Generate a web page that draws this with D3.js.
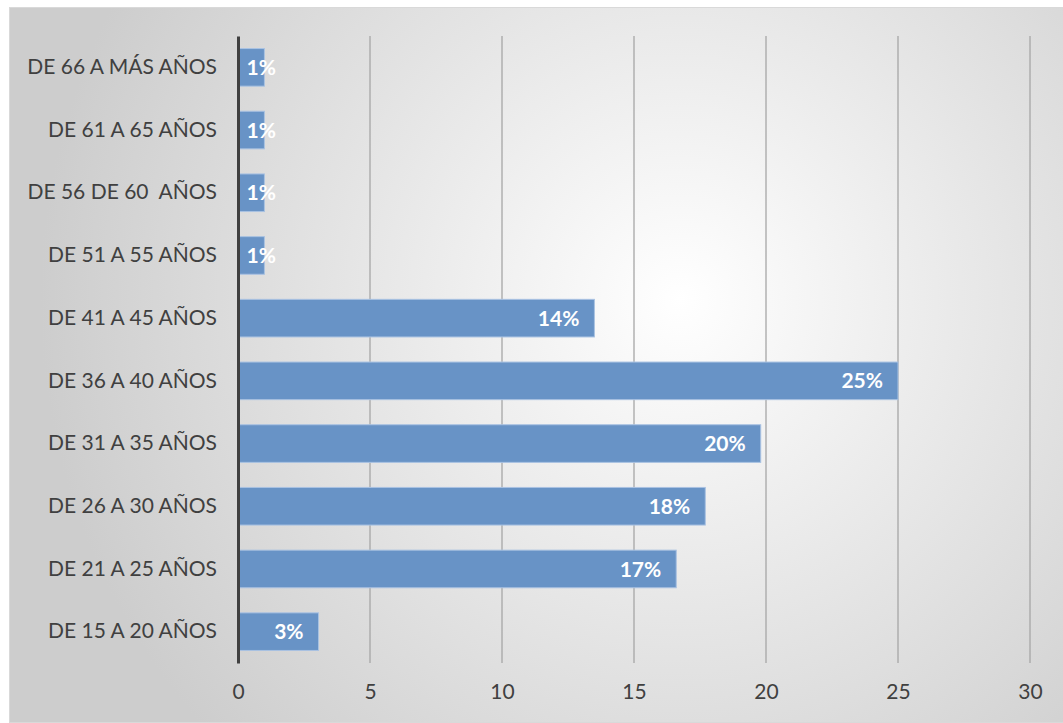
<!DOCTYPE html>
<html>
<head>
<meta charset="utf-8">
<script src="https://cdn.jsdelivr.net/npm/d3@7"></script>
<style>
  body { margin: 0; background: #fff; }
  svg text { font-family: Lato, "Open Sans", sans-serif; }
</style>
</head>
<body>
<script>
var categories = ["DE 66 A MÁS AÑOS", "DE 61 A 65 AÑOS", "DE 56 DE 60  AÑOS", "DE 51 A 55 AÑOS",
    "DE 41 A 45 AÑOS", "DE 36 A 40 AÑOS", "DE 31 A 35 AÑOS", "DE 26 A 30 AÑOS",
    "DE 21 A 25 AÑOS", "DE 15 A 20 AÑOS"];
var values = [1, 1, 1, 1, 13.5, 25, 19.8, 17.7, 16.6, 3.05];
var labels = ["1%", "1%", "1%", "1%", "14%", "25%", "20%", "18%", "17%", "3%"];
var ticks = [0, 5, 10, 15, 20, 25, 30];

var W = 1063, H = 723;
var margin = {top: 36, right: 33, bottom: 60, left: 238},
    width = W - margin.left - margin.right,
    height = H - margin.top - margin.bottom;

var svg = d3.select("body").append("svg")
    .attr("width", W)
    .attr("height", H);

var grad = svg.append("defs").append("radialGradient")
    .attr("id", "bg")
    .attr("gradientUnits", "userSpaceOnUse")
    .attr("cx", 680).attr("cy", 300).attr("r", 640);
grad.append("stop").attr("offset", "0%").attr("stop-color", "#ffffff");
grad.append("stop").attr("offset", "100%").attr("stop-color", "#cdcdcd");

svg.append("rect")
    .attr("x", 9.5).attr("y", 7.5)
    .attr("width", W - 9).attr("height", H - 8)
    .attr("fill", "url(#bg)")
    .attr("stroke", "#d9d9d9");

var g = svg.append("g")
    .attr("transform", "translate(" + margin.left + "," + margin.top + ")");

var x = d3.scaleLinear().domain([0, 30]).range([0, width]);
var y = d3.scaleBand().domain(categories).range([0, height]).paddingInner(0.4).paddingOuter(0.2);

// gridlines
g.selectAll(".grid")
    .data(ticks.slice(1))
    .enter().append("line")
    .attr("class", "grid")
    .attr("x1", function(d) { return x(d); })
    .attr("x2", function(d) { return x(d); })
    .attr("y1", 0)
    .attr("y2", height)
    .attr("stroke", "#a6a6a6")
    .attr("stroke-width", 1.3);

// bars
g.selectAll(".bar")
    .data(values)
    .enter().append("rect")
    .attr("class", "bar")
    .attr("x", x(0))
    .attr("y", function(d, i) { return y(categories[i]); })
    .attr("width", function(d) { return x(d) - x(0); })
    .attr("height", y.bandwidth())
    .attr("fill", "#6893c6")
    .attr("stroke", "#a9c2e2")
    .attr("stroke-width", 1);

// data labels
g.selectAll(".lbl")
    .data(values)
    .enter().append("text")
    .attr("class", "lbl")
    .attr("x", function(d) { return Math.max(x(d) - 15, x(0) + 38); })
    .attr("y", function(d, i) { return y(categories[i]) + y.bandwidth() / 2; })
    .attr("dy", "0.36em")
    .attr("text-anchor", "end")
    .attr("fill", "#ffffff")
    .style("font-size", "21px")
    .style("font-weight", "bold")
    .text(function(d, i) { return labels[i]; });

// x axis
var xAxis = d3.axisBottom(x).tickValues(ticks).tickSize(0).tickPadding(21);
var xg = g.append("g")
    .attr("transform", "translate(0," + height + ")")
    .call(xAxis);
xg.select(".domain").remove();
xg.selectAll("text")
    .attr("fill", "#404040")
    .style("font-size", "21px");

// y axis
var yAxis = d3.axisLeft(y).tickSize(0).tickPadding(21);
var yg = g.append("g").call(yAxis);
yg.select(".domain")
    .attr("stroke", "#404040")
    .attr("stroke-width", 3);
yg.selectAll("text")
    .attr("fill", "#404040")
    .style("font-size", "21px")
    .style("white-space", "pre");
</script>
</body>
</html>
